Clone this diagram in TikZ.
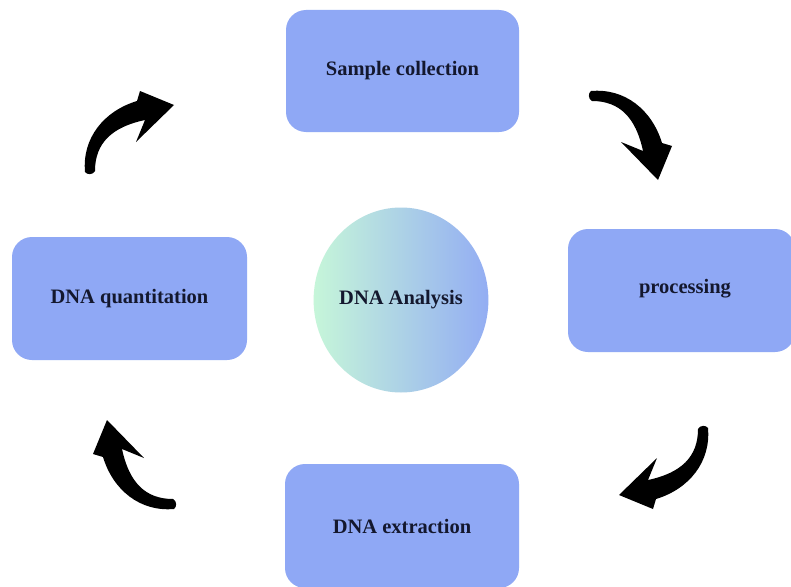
\documentclass[tikz,border=0pt]{standalone}
\usepackage{fontspec}
\setmainfont{Liberation Serif}
\usetikzlibrary{shapes.geometric}
\definecolor{boxblue}{HTML}{8FA8F5}
\definecolor{mint}{HTML}{C6F6D9}
\definecolor{sky}{HTML}{93ADF3}
\definecolor{ink}{HTML}{14182E}
\tikzset{
  labelfont/.style={text=ink, font=\bfseries\fontsize{20.5}{24}\selectfont},
  stagebox/.style={rectangle, rounded corners=20pt, fill=boxblue, draw=none, labelfont},
  % a curved, tapering arrow drawn as one filled outline
  pics/curl/.style={code={
    \fill[black]
      (-40,-45) .. controls (-6,-48) and (21,-26) .. (31,7)
      -- (41,10) -- (27,44) -- (-10,6) -- (12,15)
      .. controls (5,-18) and (-11,-35) .. (-39,-35)
      .. controls (-43,-37) and (-43,-43) .. cycle;
  }}
}
\begin{document}
\begin{tikzpicture}[x=1pt, y=-1pt]
  \fill[white] (0,0) rectangle (791,586);
  \useasboundingbox (0,0) rectangle (791,586);

  % process stages
  \node[stagebox, minimum width=233pt, minimum height=122pt] (sample) at (402.5,71) {Sample collection};
  \node[stagebox, minimum width=227pt, minimum height=123pt] (proc) at (681.5,290.5) {};
  \node[labelfont] (proclabel) at (685,289) {processing};
  \node[stagebox, minimum width=234pt, minimum height=124pt] (extract) at (402,526) {DNA extraction};
  \node[stagebox, minimum width=235pt, minimum height=123pt] (quant) at (129.5,298.5) {DNA quantitation};

  % central topic
  \node[ellipse, inner sep=0pt, minimum width=170pt, minimum height=185pt,
        left color=mint, right color=sky, labelfont] (centre) at (401,300) {DNA Analysis};

  % clockwise arrows between stages
  \pic (arrowA) at (631,136) {curl};
  \pic[rotate=-90] (arrowB) at (663,468) {curl};
  \pic[rotate=180] (arrowC) at (134,464) {curl};
  \pic[rotate=90] (arrowD) at (130,132) {curl};
\end{tikzpicture}
\end{document}
